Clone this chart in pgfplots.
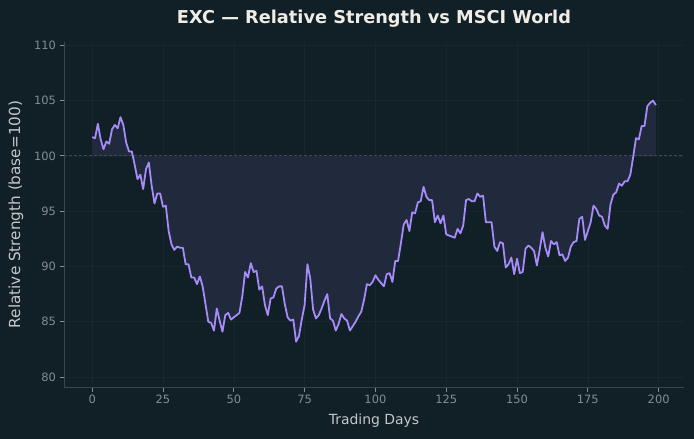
\documentclass[border=0pt]{standalone}
\usepackage{pgfplots}
\pgfplotsset{compat=1.18}
\usepackage{pgfplotstable}
\usepgfplotslibrary{fillbetween}
\usepackage{fontspec}
\setmainfont{DejaVu Sans}
\definecolor{bg}{HTML}{111F26}
\definecolor{linec}{HTML}{A78BFA}
\definecolor{fillc}{HTML}{212A3C}
\definecolor{spine}{HTML}{3C474C}
\definecolor{gridc}{HTML}{18262D}
\definecolor{tickc}{HTML}{858E92}
\definecolor{labc}{HTML}{C4C8CA}
\definecolor{titc}{HTML}{F0ECE6}
\definecolor{basec}{HTML}{3E4A4F}
\pagecolor{bg}

\pgfplotstableread{
x y
0 101.7
1 101.6
2 102.9
3 101.5
4 100.6
5 101.3
6 101.1
7 102.4
8 102.8
9 102.5
10 103.5
11 102.8
12 101.2
13 100.4
14 100.4
15 99.2
16 97.9
17 98.3
18 97.0
19 98.8
20 99.4
21 97.3
22 95.7
23 96.6
24 96.6
25 95.4
26 95.5
27 93.2
28 92.0
29 91.5
30 91.8
31 91.7
32 91.7
33 90.2
34 90.2
35 89.0
36 89.0
37 88.4
38 89.1
39 88.2
40 86.6
41 85.0
42 84.9
43 84.2
44 86.2
45 85.1
46 84.1
47 85.6
48 85.8
49 85.2
50 85.4
51 85.6
52 85.8
53 87.3
54 89.5
55 89.0
56 90.3
57 89.5
58 89.6
59 87.9
60 88.2
61 86.5
62 85.6
63 87.1
64 87.2
65 88.0
66 88.2
67 88.2
68 86.6
69 85.4
70 85.1
71 85.2
72 83.2
73 83.7
74 85.2
75 86.5
76 90.2
77 88.9
78 86.1
79 85.3
80 85.6
81 86.2
82 86.9
83 87.5
84 85.3
85 85.1
86 84.2
87 84.8
88 85.7
89 85.3
90 85.1
91 84.2
92 84.6
93 85.0
94 85.5
95 85.9
96 87.0
97 88.4
98 88.3
99 88.6
100 89.2
101 88.8
102 88.5
103 88.2
104 89.3
105 89.4
106 88.6
107 90.5
108 90.5
109 92.1
110 93.8
111 94.2
112 93.2
113 94.9
114 94.8
115 95.8
116 95.9
117 97.2
118 96.3
119 96.0
120 96.0
121 94.0
122 94.6
123 93.9
124 94.6
125 92.9
126 92.8
127 92.7
128 92.6
129 93.4
130 93.0
131 93.7
132 96.0
133 96.1
134 95.9
135 95.9
136 96.6
137 96.3
138 96.4
139 94.0
140 94.0
141 94.0
142 91.8
143 91.4
144 92.2
145 92.1
146 89.9
147 90.2
148 90.8
149 89.3
150 90.7
151 89.4
152 89.5
153 91.6
154 91.9
155 91.7
156 91.4
157 90.1
158 91.5
159 93.1
160 91.7
161 90.9
162 92.3
163 92.0
164 92.2
165 91.0
166 91.1
167 90.5
168 90.8
169 91.8
170 92.2
171 92.3
172 94.3
173 94.5
174 92.4
175 93.2
176 94.0
177 95.5
178 95.2
179 94.6
180 94.5
181 93.7
182 93.4
183 95.6
184 96.5
185 96.7
186 97.5
187 97.3
188 97.7
189 97.7
190 98.3
191 99.9
192 101.6
193 101.5
194 102.7
195 102.7
196 104.5
197 104.8
198 105.0
199 104.6
}\rsdata

\begin{document}%
\begin{tikzpicture}%
\begin{axis}[
  at={(64bp,52bp)}, anchor=south west,
  width=620bp, height=345bp, scale only axis,
  xmin=-9.95, xmax=208.95, ymin=79.1, ymax=110.3,
  xtick={0,25,...,200}, ytick={80,85,...,110},
  axis lines*=left,
  axis line style={-, draw=spine, line width=0.8bp},
  tick align=outside,
  major tick length=4.5bp,
  tick style={draw=tickc, line width=0.8bp},
  grid=major,
  major grid style={draw=gridc, line width=0.6bp},
  /pgf/number format/assume math mode=true,
  tick label style={font=\fontsize{11.5}{13}\selectfont, text=tickc},
  xlabel={Trading Days},
  ylabel={Relative Strength (base=100)},
  xlabel style={font=\fontsize{14}{16}\selectfont, text=labc, at={(axis description cs:0.5,0)}, anchor=center, yshift=-34bp},
  ylabel style={font=\fontsize{15.3}{17}\selectfont, text=labc, at={(axis description cs:0,0.5)}, anchor=center, yshift=48bp},
  clip=false,
]
\addplot[basec, line width=0.8bp, dash pattern=on 3bp off 2bp] coordinates {(-9.95,100) (208.95,100)};
\addplot[name path=rs, draw=none, forget plot] table[x=x,y=y]{\rsdata};
\path[name path=base] (axis cs:0,100) -- (axis cs:199,100);
\addplot[fillc] fill between[of=rs and base];
\addplot[linec, line width=1.8bp, line join=round] table[x=x,y=y]{\rsdata};
\end{axis}
\node[text=titc, font=\bfseries\fontsize{17.8}{20}\selectfont] at (374bp,420bp) {EXC — Relative Strength vs MSCI World};
\pgfresetboundingbox
\useasboundingbox (0,0) rectangle (694bp,439bp);
\end{tikzpicture}%
\end{document}
